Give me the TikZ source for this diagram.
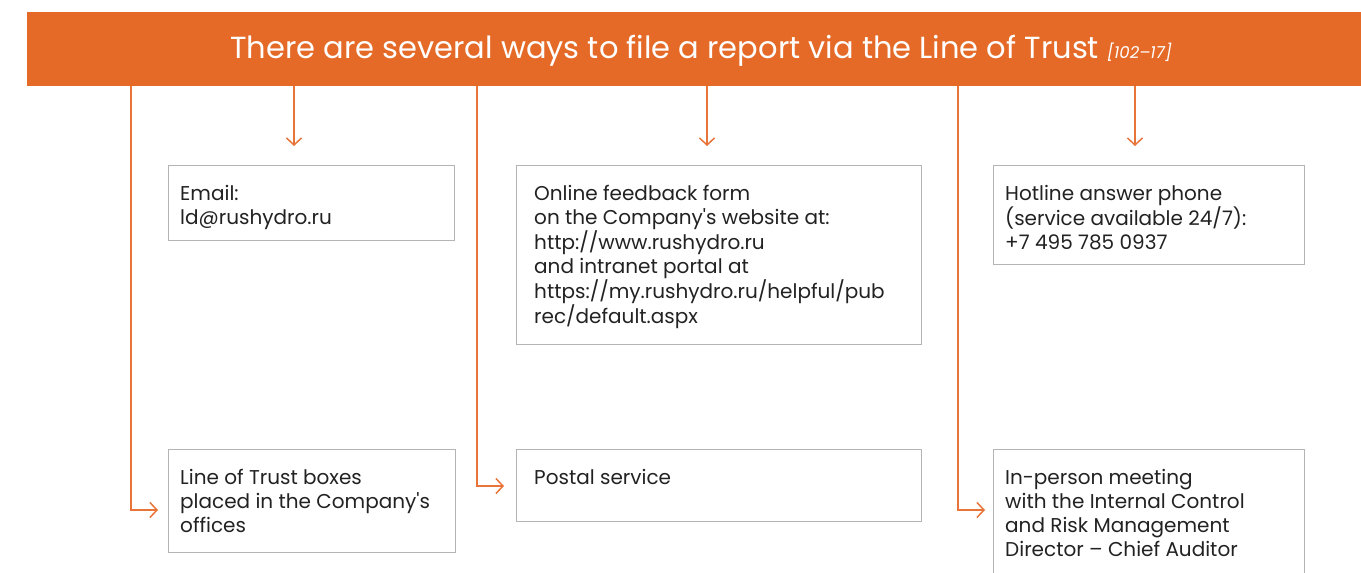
\documentclass[tikz,border=0pt]{standalone}
\usepackage{fontspec}
\setmainfont{Poppins}[Ligatures=TeXOff]
\newfontfamily\titlefont{Poppins}[Ligatures=TeXOff]
\usetikzlibrary{arrows.meta}
\definecolor{orng}{HTML}{E56A28}
\definecolor{lineor}{HTML}{E8743A}
\definecolor{boxgray}{HTML}{B4B4B4}
\definecolor{txt}{HTML}{222222}
\tikzset{
  box/.style={draw=boxgray, line width=1.2pt, fill=white, inner sep=0pt, anchor=north west},
  btext/.style={anchor=north west, align=left, inner sep=0pt, text=txt,
    font=\fontsize{20}{24}\selectfont},
  conn/.style={draw=lineor, line width=1.5pt, -{Straight Barb[length=7pt,width=15pt,line width=1.5pt]}},
}
\begin{document}
\begin{tikzpicture}[x=1pt,y=-1pt]
\useasboundingbox (0,0) rectangle (1361,573);
% header
\node[fill=orng, inner sep=0pt, minimum width=1340pt, minimum height=74pt, anchor=north west] (hdr) at (27,12) {};
\node[text=white, inner sep=0pt, anchor=base west] (title) at (230,58)
  {\titlefont\fontsize{30.5}{34}\selectfont There are several ways to file a report via the Line of Trust\ {\fontsize{16.5}{18}\selectfont\itshape [102–17]}};
% boxes
\node[box, minimum width=286pt, minimum height=75pt] (email) at (168,165) {};
\node[box, minimum width=405pt, minimum height=179pt] (online) at (516,165) {};
\node[box, minimum width=311pt, minimum height=99pt] (hot) at (993,165) {};
\node[box, minimum width=287pt, minimum height=103pt] (trust) at (168,449) {};
\node[box, minimum width=405pt, minimum height=72pt] (postal) at (516,449) {};
\node[box, minimum width=311pt, minimum height=140pt] (person) at (993,449) {};
% texts
\node[btext] (t1) at (180,185) {Email:\\ld@rushydro.ru};
\node[btext] (t2) at (534,185) {Online feedback form\\on the Company's website at:\\http://www.rushydro.ru\\and intranet portal at\\https://my.rushydro.ru/helpful/pub\\rec/default.aspx};
\node[btext] (t3) at (1005,185) {Hotline answer phone\\(service available 24/7):\\+7 495 785 0937};
\node[btext] (t4) at (180,469) {Line of Trust boxes\\placed in the Company's\\offices};
\node[btext] (t5) at (534,469) {Postal service};
\node[btext] (t6) at (1005,469) {In-person meeting\\with the Internal Control\\and Risk Management\\Director – Chief Auditor};
% arrow ends
\coordinate (a1) at (294,146);
\coordinate (a2) at (707,146);
\coordinate (a3) at (1135,146);
\coordinate (b1) at (131,510);
\coordinate (b2) at (477,486);
\coordinate (b3) at (958,510);
% connectors
\draw[conn] (hdr.south -| a1) -- (a1);
\draw[conn] (hdr.south -| a2) -- (a2);
\draw[conn] (hdr.south -| a3) -- (a3);
\draw[conn, shorten >=10pt] (hdr.south -| b1) |- (trust.west |- b1);
\draw[conn, shorten >=12pt] (hdr.south -| b2) |- (postal.west |- b2);
\draw[conn, shorten >=8pt] (hdr.south -| b3) |- (person.west |- b3);
\end{tikzpicture}
\end{document}
